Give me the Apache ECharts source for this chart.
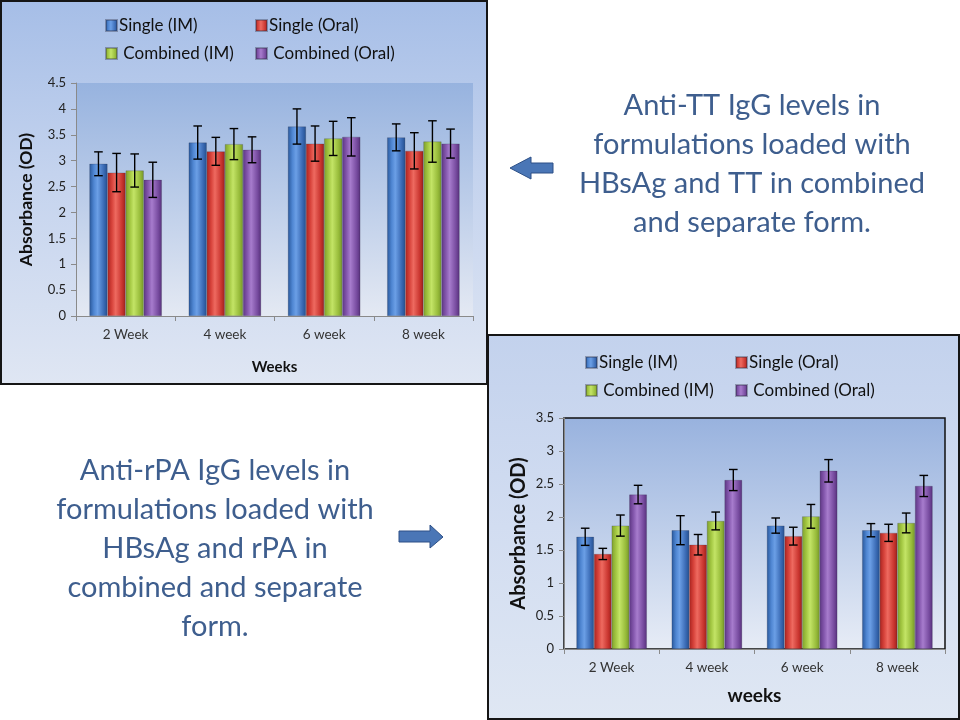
<!DOCTYPE html>
<html><head><meta charset="utf-8">
<script src="https://cdn.jsdelivr.net/npm/echarts@6/dist/echarts.min.js"></script>
<style>
html,body{margin:0;padding:0;background:#fff;}
#wrap{position:relative;width:960px;height:720px;overflow:hidden;}
.panel{position:absolute;box-sizing:border-box;border:2px solid #151515;}
#p1{left:0;top:0;width:488px;height:385px;background:linear-gradient(#a6bee7,#c4d3ee 45%,#dfe6f3);}
#p2{left:487px;top:334px;width:473px;height:386px;background:linear-gradient(#c3d2ed,#d2ddf1 50%,#dfe7f3);}
#chart{position:absolute;left:0;top:0;width:960px;height:720px;}
</style></head>
<body><div id="wrap"><div class="panel" id="p1"></div><div class="panel" id="p2"></div><div id="chart"></div></div>
<script>
const categories = ['2 Week', '4 week', '6 week', '8 week'];
const seriesNames = ['Single (IM)', 'Single (Oral)', 'Combined (IM)', 'Combined (Oral)'];

// Chart 1: Anti-TT IgG
const ttSingleIM = [2.94, 3.35, 3.66, 3.45];
const ttSingleOral = [2.77, 3.18, 3.33, 3.19];
const ttCombinedIM = [2.81, 3.32, 3.43, 3.37];
const ttCombinedOral = [2.63, 3.21, 3.46, 3.33];
const ttErrSingleIM = [0.23, 0.32, 0.34, 0.26];
const ttErrSingleOral = [0.37, 0.27, 0.34, 0.35];
const ttErrCombinedIM = [0.32, 0.30, 0.33, 0.40];
const ttErrCombinedOral = [0.34, 0.25, 0.37, 0.28];

// Chart 2: Anti-rPA IgG
const rpaSingleIM = [1.70, 1.80, 1.87, 1.80];
const rpaSingleOral = [1.44, 1.58, 1.71, 1.76];
const rpaCombinedIM = [1.87, 1.94, 2.01, 1.91];
const rpaCombinedOral = [2.34, 2.56, 2.70, 2.47];
const rpaErrSingleIM = [0.13, 0.22, 0.115, 0.10];
const rpaErrSingleOral = [0.085, 0.155, 0.135, 0.13];
const rpaErrCombinedIM = [0.16, 0.135, 0.18, 0.15];
const rpaErrCombinedOral = [0.14, 0.16, 0.17, 0.16];

const ttMax = 4.5, rpaMax = 3.5, tickStep = 0.5;
const ttCaption = ['Anti-TT IgG levels in', 'formulations loaded with', 'HBsAg and TT in combined', 'and separate form.'];
const rpaCaption = ['Anti-rPA IgG levels in', 'formulations loaded with', 'HBsAg and rPA in', 'combined and separate', 'form.'];

const FONT = 'Lato, "Open Sans", sans-serif';
const gap1 = 0.27, gap2 = 0.26;
const palettes = [
  ['#28579a', '#4f86d2', '#6b9fe6', '#3a6ab4', '#244f8e'],
  ['#a9231f', '#d8443c', '#ee6a60', '#c9352f', '#9c201c'],
  ['#7e9f2c', '#a4c843', '#c3e466', '#97bb3a', '#75952a'],
  ['#5d3683', '#8558ae', '#a77ccd', '#774b9f', '#56307a']
];
function grad(p){
  return {type:'linear', x:0, y:0, x2:1, y2:0, colorStops:[
    {offset:0, color:p[0]},{offset:0.25, color:p[1]},{offset:0.45, color:p[2]},{offset:0.8, color:p[3]},{offset:1, color:p[4]}]};
}
function errRender(gapFrac, n){
  return function(params, api){
    const ci = api.value(0), si = api.value(1), v = api.value(2), e = api.value(3);
    const band = api.size([1, 0])[0];
    const groupW = band * (1 - gapFrac);
    const bw = groupW / n;
    const c = api.coord([ci, v]);
    const x = c[0] - groupW / 2 + bw * (si + 0.5);
    const yt = api.coord([ci, v + e])[1];
    const yb = api.coord([ci, v - e])[1];
    const hw = 4.3;
    const st = {stroke:'#000', lineWidth:1.4};
    return {type:'group', children:[
      {type:'line', shape:{x1:x, y1:yt, x2:x, y2:yb}, style:st},
      {type:'line', shape:{x1:x-hw, y1:yt, x2:x+hw, y2:yt}, style:st},
      {type:'line', shape:{x1:x-hw, y1:yb, x2:x+hw, y2:yb}, style:st}
    ]};
  };
}
function errData(vals, errs){
  const out = [];
  vals.forEach((arr, si) => arr.forEach((v, ci) => out.push([ci, si, v, errs[si][ci]])));
  return out;
}
const ttVals = [ttSingleIM, ttSingleOral, ttCombinedIM, ttCombinedOral];
const ttErrs = [ttErrSingleIM, ttErrSingleOral, ttErrCombinedIM, ttErrCombinedOral];
const rpaVals = [rpaSingleIM, rpaSingleOral, rpaCombinedIM, rpaCombinedOral];
const rpaErrs = [rpaErrSingleIM, rpaErrSingleOral, rpaErrCombinedIM, rpaErrCombinedOral];

const series = [];
ttVals.forEach((arr, i) => series.push({
  name: seriesNames[i], type:'bar', xAxisIndex:0, yAxisIndex:0, data: arr,
  barGap:'0%', barCategoryGap: (gap1*100)+'%',
  itemStyle:{color: grad(palettes[i]), borderColor:'rgba(40,40,60,0.35)', borderWidth:0.6},
  emphasis:{disabled:true}
}));
rpaVals.forEach((arr, i) => series.push({
  name: seriesNames[i], type:'bar', xAxisIndex:1, yAxisIndex:1, data: arr,
  barGap:'0%', barCategoryGap: (gap2*100)+'%',
  itemStyle:{color: grad(palettes[i]), borderColor:'rgba(40,40,60,0.35)', borderWidth:0.6},
  emphasis:{disabled:true}
}));
series.push({type:'custom', xAxisIndex:0, yAxisIndex:0, renderItem: errRender(gap1, 4), encode:{x:0, y:2}, data: errData(ttVals, ttErrs), z:5, silent:true});
series.push({type:'custom', xAxisIndex:1, yAxisIndex:1, renderItem: errRender(gap2, 4), encode:{x:0, y:2}, data: errData(rpaVals, rpaErrs), z:5, silent:true});

function legend(left, top, names){
  return {orient:'vertical', left:left, top:top, data:names, itemWidth:11, itemHeight:11, itemGap:11, icon:'rect',
    selectedMode:false,
    formatter: n => n.indexOf('Combined') === 0 ? ' ' + n : n,
    textStyle:{fontFamily:FONT, fontSize:17, color:'#111', padding:[0,0,0,-3]}};
}
function xAx(gi, nameGap, nameSize, nameText){
  return {type:'category', gridIndex:gi, data:categories,
    axisLine:{lineStyle:{color:'#8a8a8a', width:1}},
    axisTick:{show:true, length:5, lineStyle:{color:'#8a8a8a'}},
    axisLabel:{fontFamily:FONT, fontSize:13.5, color:'#333', margin:12},
    name:nameText, nameLocation:'middle', nameGap:nameGap,
    nameTextStyle:{fontFamily:FONT, fontSize:nameSize, fontWeight:'bold', color:'#111'}};
}
function yAx(gi, max, nameGap, nameSize){
  return {type:'value', gridIndex:gi, min:0, max:max, interval:tickStep,
    splitLine:{show:false},
    axisLine:{show:true, lineStyle:{color:'#8a8a8a'}},
    axisTick:{show:true, length:5, lineStyle:{color:'#8a8a8a'}},
    axisLabel:{fontFamily:FONT, fontSize:13, color:'#222', margin:10},
    name:'Absorbance (OD)', nameLocation:'middle', nameRotate:90, nameGap:nameGap,
    nameTextStyle:{fontFamily:FONT, fontSize:nameSize, fontWeight:'bold', color:'#111'}};
}
const plotGrad1 = {type:'linear', x:0, y:0, x2:0, y2:1, colorStops:[{offset:0, color:'#97b3df'},{offset:0.5, color:'#bccde9'},{offset:1, color:'#e4e9f3'}]};
const plotGrad2 = {type:'linear', x:0, y:0, x2:0, y2:1, colorStops:[{offset:0, color:'#98b2de'},{offset:0.5, color:'#bfcfea'},{offset:1, color:'#e7ecf6'}]};

function captionGraphic(lines, cx, y0, dy){
  return lines.map((t, i) => ({type:'text', x:cx, y:y0 + i*dy,
    style:{text:t, fill:'#3e5e8e', font:'29px ' + FONT, textAlign:'center', textVerticalAlign:'middle'}}));
}
const arrowStyle = {fill:'#4a76b6', stroke:'#2c4f86', lineWidth:1};

const option = {
  backgroundColor:'transparent',
  animation:false,
  grid:[
    {left:76, top:83, width:397, height:233, show:true, backgroundColor:plotGrad1, borderWidth:0},
    {left:564, top:418, width:381, height:231, show:true, backgroundColor:plotGrad2, borderColor:'#111', borderWidth:1.5}
  ],
  legend:[
    legend(100, 12, [seriesNames[0], seriesNames[2]]),
    legend(250, 12, [seriesNames[1], seriesNames[3]]),
    legend(580, 349, [seriesNames[0], seriesNames[2]]),
    legend(730, 349, [seriesNames[1], seriesNames[3]])
  ],
  xAxis:[xAx(0, 44, 15, 'Weeks'), xAx(1, 37, 19, 'weeks')],
  yAxis:[yAx(0, ttMax, 41, 17.5), yAx(1, rpaMax, 35, 20)],
  series: series,
  graphic:[
    ...captionGraphic(ttCaption, 752, 106, 39),
    ...captionGraphic(rpaCaption, 215, 471, 39),
    {type:'polygon', shape:{points:[[510,168],[531,157],[531,163],[553,163],[553,173],[531,173],[531,179]]}, style:arrowStyle},
    {type:'polygon', shape:{points:[[443,537],[430,525],[430,531],[399,531],[399,542],[430,542],[430,548]]}, style:arrowStyle}
  ]
};
const chart = echarts.init(document.getElementById('chart'), null, {renderer:'canvas'});
chart.setOption(option);
</script>
</body></html>
